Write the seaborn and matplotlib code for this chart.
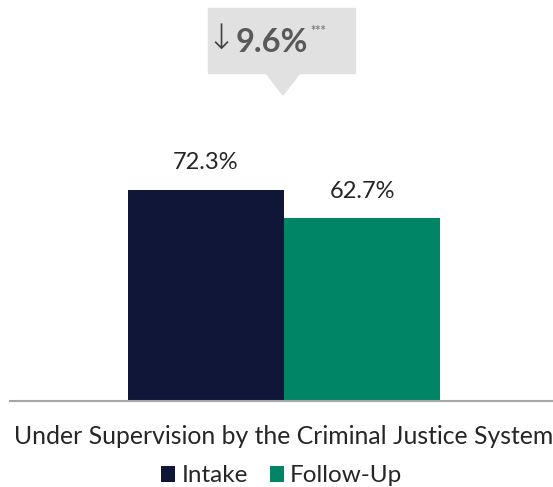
import matplotlib
matplotlib.use('Agg')
import matplotlib.pyplot as plt
from matplotlib.patches import Polygon, Rectangle
import seaborn as sns
import pandas as pd

# data
category = ['Under Supervision by the Criminal Justice System']
series = ['Intake', 'Follow-Up']
values = [72.3, 62.7]
change_label = '9.6%'
colors = ['#0f1638', '#008566']

df = pd.DataFrame({'cat': category * 2, 'series': series, 'value': values})

sns.set_style('white')
plt.rcParams['font.family'] = ['Lato', 'DejaVu Sans']

fig = plt.figure(figsize=(5.53, 4.87), dpi=100)
ax = fig.add_axes([10 / 553, 86 / 487, 543 / 553, 401 / 487])

sns.barplot(data=df, x='cat', y='value', hue='series', palette=colors,
            width=0.8, saturation=1, linewidth=0, ax=ax, legend=True)

ax.set_ylim(0, 137.3)
ax.set_xlim(-0.7026, 0.6897)
ax.set_yticks([])
ax.set_ylabel('')
ax.set_xlabel('')
for s in ['top', 'left', 'right']:
    ax.spines[s].set_visible(False)
ax.spines['bottom'].set_color('#a6a6a6')
ax.spines['bottom'].set_linewidth(1.5)
ax.tick_params(axis='x', length=0, pad=17, labelsize=17.8, colors='#262626')

# value labels above bars
for bar, v in zip(ax.patches, values):
    ax.text(bar.get_x() + bar.get_width() / 2, v + 9.2, f'{v:.1f}%',
            ha='center', va='center', fontsize=17, color='#262626')

ax.legend(loc='center', bbox_to_anchor=(0.5, -(476 - 401) / 401), ncol=2,
          frameon=False, fontsize=17.5, handlelength=0.6, handleheight=0.6,
          handletextpad=0.25, columnspacing=0.9, labelcolor='#262626',
          borderpad=0)

# callout box with the change
box_color = '#e1e1e1'
fig.patches.append(Rectangle((208 / 553, 1 - 73 / 487), 147 / 553, 65 / 487,
                             transform=fig.transFigure, color=box_color, zorder=0))
fig.patches.append(Polygon([(266 / 553, 1 - 73 / 487), (300 / 553, 1 - 73 / 487),
                            (283 / 553, 1 - 95 / 487)],
                           transform=fig.transFigure, color=box_color, zorder=0))
fig.text(221 / 553, 1 - 39 / 487, '↓', fontsize=25, color='#404040',
         ha='center', va='center', family=['DejaVu Sans'], fontweight='light')
fig.text(236 / 553, 1 - 42 / 487, change_label, fontsize=23.5, color='#595959',
         fontweight='bold', ha='left', va='center')
fig.text(310 / 553, 1 - 31 / 487, '***', fontsize=9, color='#7f7f7f',
         fontweight='bold', ha='left', va='center')

fig.savefig('out.png', dpi=100)
